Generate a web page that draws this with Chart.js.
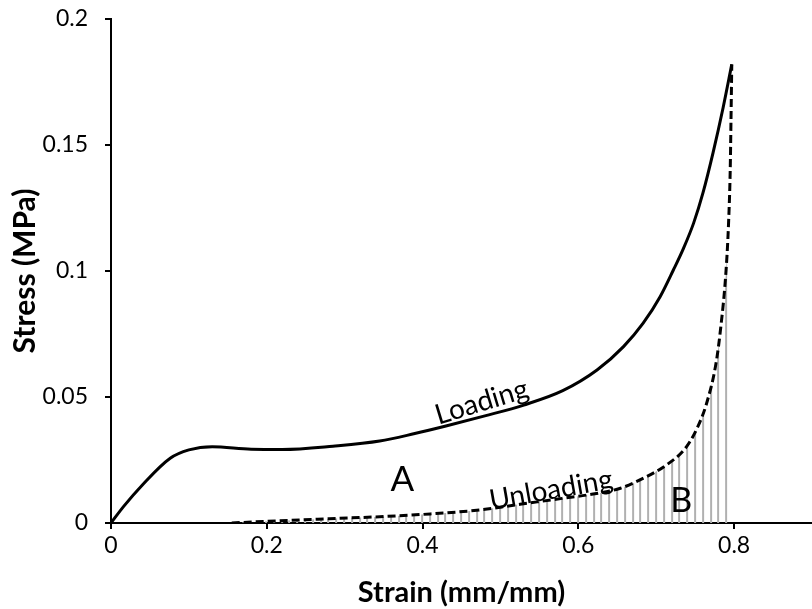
<!DOCTYPE html>
<html>
<head>
<meta charset="utf-8">
<script src="https://cdn.jsdelivr.net/npm/chart.js@4.4.1/dist/chart.umd.min.js"></script>
<style>
html,body{margin:0;padding:0;background:#fff;}
canvas{display:block;}
</style>
</head>
<body>
<canvas id="c" width="812" height="609"></canvas>
<script>
// Loading curve (solid)
const loadingStrain = [0, 0.016, 0.04, 0.076, 0.10, 0.13, 0.18, 0.22, 0.285, 0.345, 0.39, 0.43, 0.48, 0.53, 0.58, 0.624, 0.658, 0.683, 0.705, 0.722, 0.735, 0.748, 0.760, 0.773, 0.786, 0.797];
const loadingStress = [0, 0.0065, 0.015, 0.0257, 0.029, 0.0303, 0.0293, 0.0292, 0.0305, 0.0325, 0.0355, 0.0385, 0.0425, 0.0468, 0.0525, 0.0607, 0.070, 0.0792, 0.0898, 0.1004, 0.109, 0.119, 0.131, 0.147, 0.165, 0.182];
// Unloading curve (dashed)
const unloadingStrain = [0.155, 0.217, 0.28, 0.345, 0.41, 0.474, 0.52, 0.58, 0.619, 0.654, 0.683, 0.713, 0.739, 0.756, 0.765, 0.776, 0.782, 0.790, 0.793, 0.795, 0.796, 0.797];
const unloadingStress = [0, 0.0009, 0.0017, 0.0025, 0.0036, 0.0052, 0.0072, 0.0098, 0.0115, 0.0138, 0.0177, 0.023, 0.0303, 0.040, 0.0478, 0.062, 0.0753, 0.1018, 0.120, 0.140, 0.160, 0.182];
// Axis ticks
const xTicks = [0, 0.2, 0.4, 0.6, 0.8];
const yTicks = [0, 0.05, 0.1, 0.15, 0.2];
// Annotation labels
const labelTexts = ['Loading', 'Unloading', 'A', 'B'];
const labelStrain = [0.476, 0.565, 0.374, 0.732];
const labelStress = [0.048, 0.0131, 0.0171, 0.0087];

const FONT = 'Lato, "Open Sans", sans-serif';
const hatchStep = 0.01;

const loadingData = loadingStrain.map((x, i) => ({x, y: loadingStress[i]}));
const unloadingData = unloadingStrain.map((x, i) => ({x, y: unloadingStress[i]}));

function hatchPattern(ctx) {
  const chart = ctx.chart;
  const xs = chart.scales && chart.scales.x;
  if (!xs || !chart.chartArea) return 'rgba(0,0,0,0)';
  const s = xs.getPixelForValue(hatchStep) - xs.getPixelForValue(0);
  const n = 10;
  const W = Math.round(s * n);
  const c = document.createElement('canvas');
  c.width = W; c.height = 4;
  const g = c.getContext('2d');
  g.fillStyle = '#b0b0b0';
  for (let i = 0; i < n; i++) g.fillRect(Math.round(i * W / n), 0, 2, 4);
  const p = chart.ctx.createPattern(c, 'repeat');
  const x8 = xs.getPixelForValue(0.8);
  p.setTransform(new DOMMatrix().translate(x8 - 1, 0));
  return p;
}

const textPlugin = {
  id: 'texts',
  afterDatasetsDraw(chart) {
    const {ctx, scales} = chart;
    const styles = [
      {size: 28, rot: -17},
      {size: 28, rot: -10},
      {size: 35, rot: 0},
      {size: 34, rot: 0}
    ];
    ctx.save();
    ctx.fillStyle = '#000';
    ctx.textAlign = 'center';
    ctx.textBaseline = 'middle';
    labelTexts.forEach((t, i) => {
      const px = scales.x.getPixelForValue(labelStrain[i]);
      const py = scales.y.getPixelForValue(labelStress[i]);
      ctx.save();
      ctx.translate(px, py);
      ctx.rotate(styles[i].rot * Math.PI / 180);
      ctx.font = styles[i].size + 'px ' + FONT;
      ctx.fillText(t, 0, 0);
      ctx.restore();
    });
    ctx.restore();
  }
};

new Chart(document.getElementById('c'), {
  type: 'line',
  data: {
    datasets: [
      {
        label: 'Unloading',
        data: unloadingData,
        borderColor: '#000',
        borderWidth: 3,
        borderDash: [8, 4],
        pointRadius: 0,
        fill: 'origin',
        backgroundColor: hatchPattern,
        cubicInterpolationMode: 'monotone',
        order: 2
      },
      {
        label: 'Loading',
        data: loadingData,
        borderColor: '#000',
        borderWidth: 3,
        pointRadius: 0,
        fill: false,
        cubicInterpolationMode: 'monotone',
        order: 1
      }
    ]
  },
  options: {
    responsive: false,
    devicePixelRatio: 1,
    animation: false,
    layout: {padding: {top: 19, right: 0, left: 0, bottom: 0}},
    plugins: {legend: {display: false}, tooltip: {enabled: false}},
    scales: {
      x: {
        type: 'linear',
        min: 0, max: 0.9,
        afterBuildTicks(scale) { scale.ticks = xTicks.map(v => ({value: v})); },
        afterFit(scale) { scale.height = 86; scale.paddingRight = 0; scale.paddingLeft = 0; },
        border: {display: true, color: '#000', width: 2},
        grid: {display: true, drawOnChartArea: false, drawTicks: true, tickLength: 6, color: '#000', lineWidth: 2},
        ticks: {
          color: '#000', padding: 3,
          font: {family: FONT, size: 23},
          callback: v => String(Math.round(v * 100) / 100)
        },
        title: {display: true, text: 'Strain (mm/mm)', color: '#000', font: {family: FONT, size: 29, weight: 'bold', lineHeight: 1}, padding: {top: 4, bottom: 2}}
      },
      y: {
        type: 'linear',
        min: 0, max: 0.2,
        afterBuildTicks(scale) { scale.ticks = yTicks.map(v => ({value: v})); },
        afterFit(scale) { scale.width = 111; scale.paddingTop = 0; scale.paddingBottom = 0; },
        border: {display: true, color: '#000', width: 2},
        grid: {display: true, drawOnChartArea: false, drawTicks: true, tickLength: 6, color: '#000', lineWidth: 2},
        ticks: {
          color: '#000', padding: 17,
          font: {family: FONT, size: 23},
          callback: v => String(Math.round(v * 100) / 100)
        },
        title: {display: true, text: 'Stress (MPa)', color: '#000', font: {family: FONT, size: 30, weight: 'bold', lineHeight: 1}, padding: {top: 10, bottom: 2}}
      }
    }
  },
  plugins: [textPlugin]
});
</script>
</body>
</html>
